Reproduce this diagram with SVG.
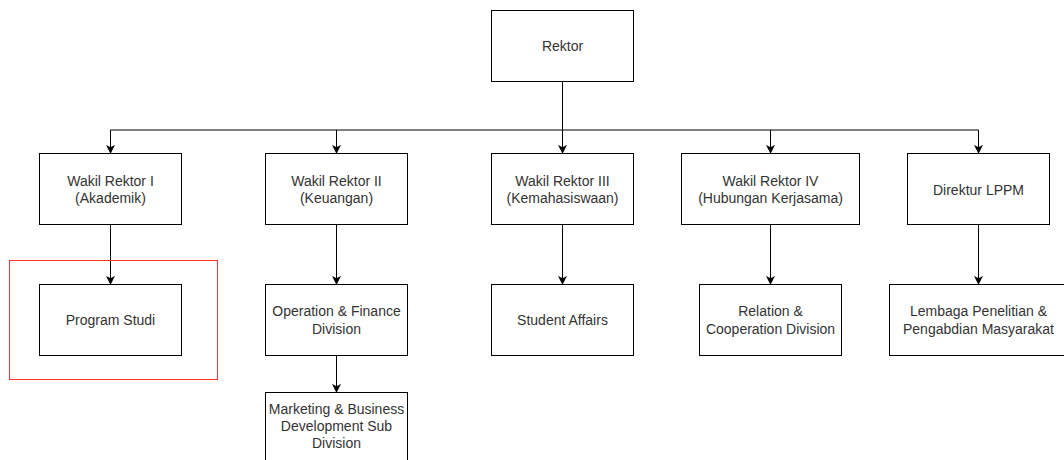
<svg xmlns="http://www.w3.org/2000/svg" width="1064" height="460" viewBox="0 0 1064 460">
<style>
.box{fill:#fff;stroke:#000;stroke-width:1}
.t{font-family:"Liberation Sans",Arial,sans-serif;font-size:14px;fill:#333;text-anchor:middle}
.c{fill:none;stroke:#000;stroke-width:1}
</style>
<defs>
<marker id="arr" viewBox="0 0 10 10" refX="9" refY="5" markerWidth="9" markerHeight="9" markerUnits="userSpaceOnUse" orient="auto">
<path d="M0,0 L10,5 L0,10 L2.5,5 Z" fill="#000"/>
</marker>
</defs>
<rect x="0" y="0" width="1064" height="460" fill="#fff"/>
<g id="connectors">
<path class="c" d="M562.5,82 V153" marker-end="url(#arr)"/>
<path class="c" d="M110.5,130 H978.5"/>
<path class="c" d="M110.5,130 V153" marker-end="url(#arr)"/>
<path class="c" d="M336.5,130 V153" marker-end="url(#arr)"/>
<path class="c" d="M770.5,130 V153" marker-end="url(#arr)"/>
<path class="c" d="M978.5,130 V153" marker-end="url(#arr)"/>
<path class="c" d="M110.5,225 V284" marker-end="url(#arr)"/>
<path class="c" d="M336.5,225 V284" marker-end="url(#arr)"/>
<path class="c" d="M562.5,225 V284" marker-end="url(#arr)"/>
<path class="c" d="M770.5,225 V284" marker-end="url(#arr)"/>
<path class="c" d="M978.5,225 V284" marker-end="url(#arr)"/>
<path class="c" d="M336.5,356 V392" marker-end="url(#arr)"/>
</g>
<g id="highlight">
<rect x="9.5" y="260.5" width="208" height="119" fill="none" stroke="#ff3333" stroke-width="1"/>
</g>
<g id="rektor">
<rect class="box" x="491.5" y="10.5" width="142" height="71"/>
<text class="t" x="562.5" y="50.5">Rektor</text>
</g>
<g id="wr1">
<rect class="box" x="39.5" y="153.5" width="142" height="71"/>
<text class="t" x="110.5" y="185.5">Wakil Rektor I</text>
<text class="t" x="110.5" y="203">(Akademik)</text>
</g>
<g id="wr2">
<rect class="box" x="265.5" y="153.5" width="142" height="71"/>
<text class="t" x="336.5" y="185.5">Wakil Rektor II</text>
<text class="t" x="336.5" y="203">(Keuangan)</text>
</g>
<g id="wr3">
<rect class="box" x="491.5" y="153.5" width="142" height="71"/>
<text class="t" x="562.5" y="185.5">Wakil Rektor III</text>
<text class="t" x="562.5" y="203">(Kemahasiswaan)</text>
</g>
<g id="wr4">
<rect class="box" x="681.5" y="153.5" width="178" height="71"/>
<text class="t" x="770.5" y="185.5">Wakil Rektor IV</text>
<text class="t" x="770.5" y="203">(Hubungan Kerjasama)</text>
</g>
<g id="lppm">
<rect class="box" x="907.5" y="153.5" width="142" height="71"/>
<text class="t" x="978.5" y="194.5">Direktur LPPM</text>
</g>
<g id="prodi">
<rect class="box" x="39.5" y="284.5" width="142" height="71"/>
<text class="t" x="110.5" y="324.5">Program Studi</text>
</g>
<g id="opfin">
<rect class="box" x="265.5" y="284.5" width="142" height="71"/>
<text class="t" x="336.5" y="316">Operation &amp; Finance</text>
<text class="t" x="336.5" y="333.5">Division</text>
</g>
<g id="marketing">
<rect class="box" x="265.5" y="392.5" width="142" height="71"/>
<text class="t" x="336.5" y="414">Marketing &amp; Business</text>
<text class="t" x="336.5" y="431">Development Sub</text>
<text class="t" x="336.5" y="448">Division</text>
</g>
<g id="student">
<rect class="box" x="491.5" y="284.5" width="142" height="71"/>
<text class="t" x="562.5" y="324.5">Student Affairs</text>
</g>
<g id="relation">
<rect class="box" x="699.5" y="284.5" width="142" height="71"/>
<text class="t" x="770.5" y="316">Relation &amp;</text>
<text class="t" x="770.5" y="333.5">Cooperation Division</text>
</g>
<g id="lembaga">
<rect class="box" x="889.5" y="284.5" width="178" height="71"/>
<text class="t" x="978.5" y="316">Lembaga Penelitian &amp;</text>
<text class="t" x="978.5" y="333.5">Pengabdian Masyarakat</text>
</g>
</svg>
